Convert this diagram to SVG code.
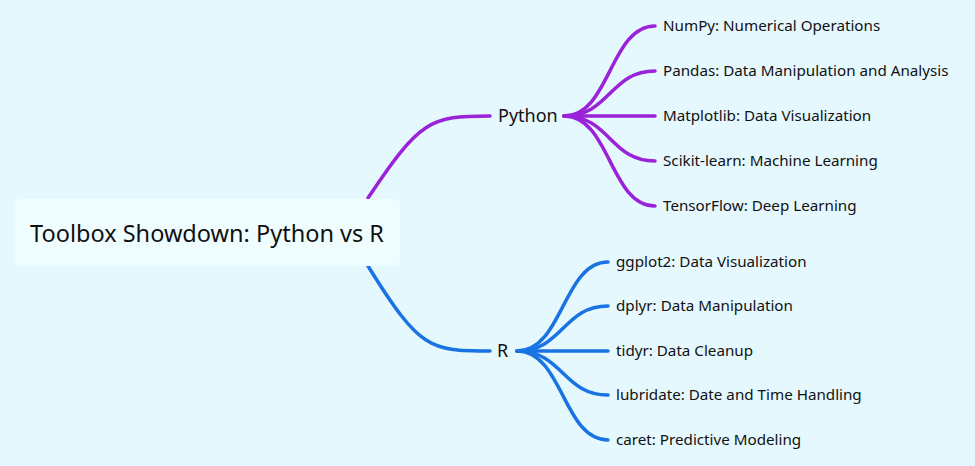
<svg xmlns="http://www.w3.org/2000/svg" width="975" height="466" viewBox="0 0 975 466">
<style>
.p{fill:none;stroke:#9a22d9;stroke-width:3.5;stroke-linecap:round}
.r{fill:none;stroke:#1a73e3;stroke-width:3.5;stroke-linecap:round}
text{font-family:"Noto Sans","Open Sans",sans-serif;fill:#111;}
.c{font-size:15.2px}
.m{font-size:18px}
</style>
<rect width="975" height="466" fill="#e5f8fe"/>
<g id="connectors">
<path class="p" d="M368,198 C420,120 430,116 490,116"/>
<path class="r" d="M368,266 C420,350 430,351 490,351"/>
<path class="p" d="M564,116 C610,116 610,26 655,26"/>
<path class="p" d="M564,116 C610,116 610,71 655,71"/>
<path class="p" d="M564,116 L655,116"/>
<path class="p" d="M564,116 C610,116 610,161 655,161"/>
<path class="p" d="M564,116 C610,116 610,206 655,206"/>
<path class="r" d="M517,351 C563,351 563,262 608,262"/>
<path class="r" d="M517,351 C563,351 563,306 608,306"/>
<path class="r" d="M517,351 L608,351"/>
<path class="r" d="M517,351 C563,351 563,395 608,395"/>
<path class="r" d="M517,351 C563,351 563,440 608,440"/>
</g>
<g id="root">
<rect x="15" y="199" width="385" height="67" rx="5" fill="#effdff"/>
<text x="207" y="242" font-size="23.5" text-anchor="middle">Toolbox Showdown: Python vs R</text>
</g>
<g id="python"><text class="m" x="498" y="122">Python</text></g>
<g id="r"><text class="m" x="497" y="357">R</text></g>
<g id="py1"><text class="c" x="663" y="31">NumPy: Numerical Operations</text></g>
<g id="py2"><text class="c" x="663" y="76">Pandas: Data Manipulation and Analysis</text></g>
<g id="py3"><text class="c" x="663" y="121">Matplotlib: Data Visualization</text></g>
<g id="py4"><text class="c" x="663" y="166">Scikit-learn: Machine Learning</text></g>
<g id="py5"><text class="c" x="663" y="211">TensorFlow: Deep Learning</text></g>
<g id="r1"><text class="c" x="616" y="267">ggplot2: Data Visualization</text></g>
<g id="r2"><text class="c" x="616" y="311">dplyr: Data Manipulation</text></g>
<g id="r3"><text class="c" x="616" y="356">tidyr: Data Cleanup</text></g>
<g id="r4"><text class="c" x="616" y="400">lubridate: Date and Time Handling</text></g>
<g id="r5"><text class="c" x="616" y="445">caret: Predictive Modeling</text></g>
</svg>
